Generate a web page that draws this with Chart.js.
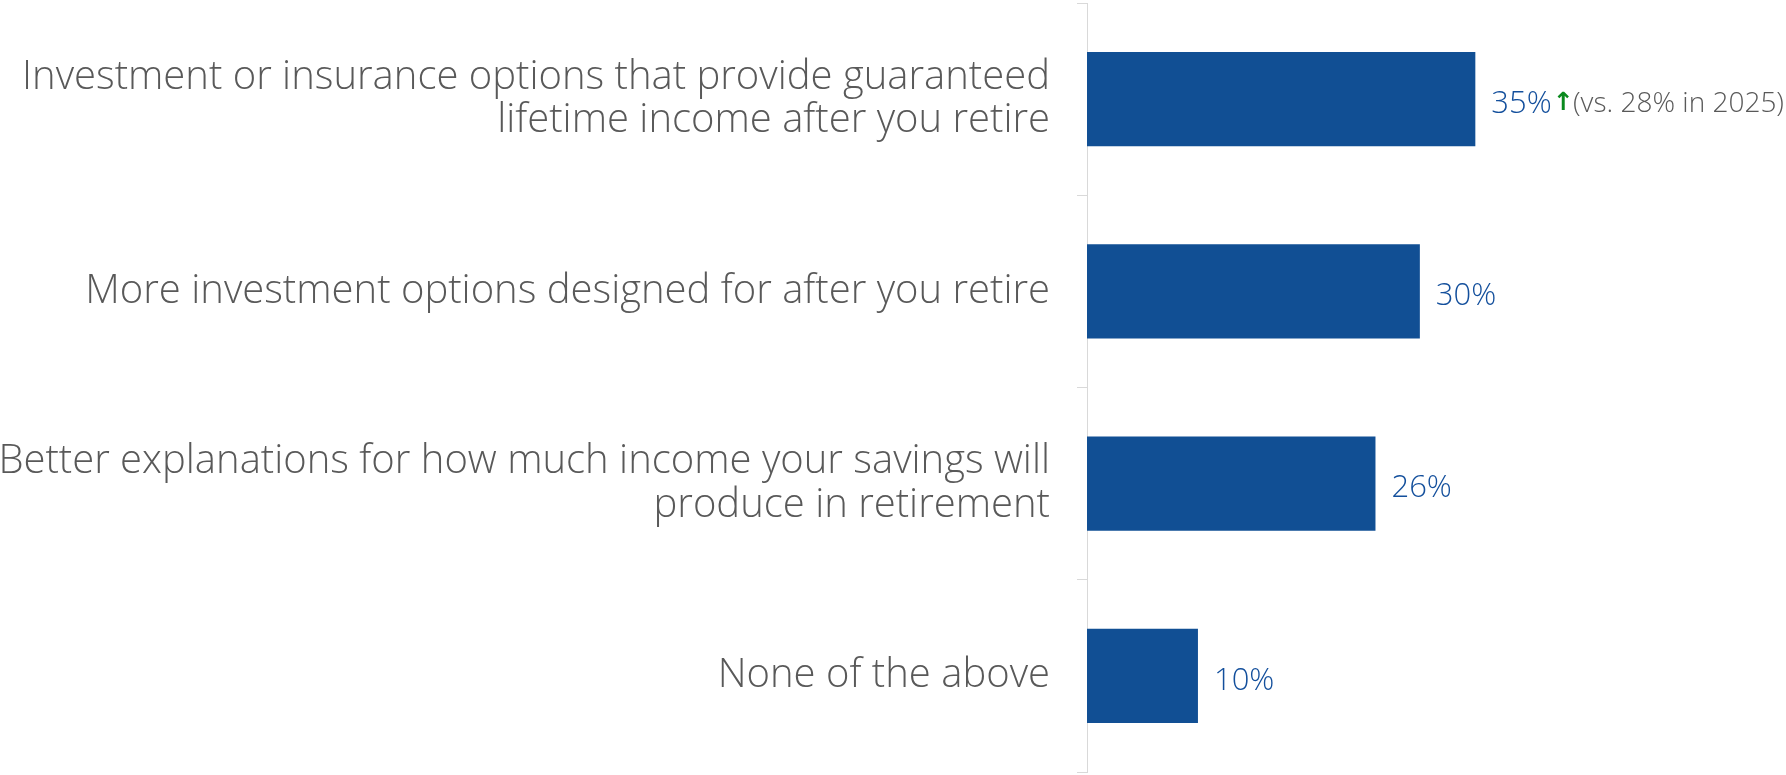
<!DOCTYPE html>
<html>
<head>
<meta charset="utf-8">
<script src="https://cdn.jsdelivr.net/npm/chart.js@4/dist/chart.umd.min.js"></script>
<style>
  html, body { margin: 0; padding: 0; background: #ffffff; }
  #wrap { width: 1786px; height: 775px; position: relative; }
</style>
</head>
<body>
<div id="wrap"><canvas id="retireChart"></canvas></div>
<script>
// categories (multi-line labels)
const categories = [
    ['Investment or insurance options that provide guaranteed', 'lifetime income after you retire'],
    ['More investment options designed for after you retire'],
    ['Better explanations for how much income your savings will', 'produce in retirement'],
    ['None of the above']
];
// share of respondents (%)
const values = [35, 30, 26, 10];
// change markers and notes shown next to the value
const arrows = ['↑', '', '', ''];
const notes = ['(vs. 28% in 2025)', '', '', ''];

const labelFont = '"Open Sans", Lato, sans-serif';

// draw value labels, arrow and comparison note after the bars
const valueLabels = {
    id: 'valueLabels',
    afterDatasetsDraw(chart) {
        const ctx = chart.ctx;
        const meta = chart.getDatasetMeta(0);
        ctx.save();
        ctx.textBaseline = 'middle';
        ctx.textAlign = 'left';
        meta.data.forEach((bar, i) => {
            let x = bar.x + 16;
            const y = bar.y + 5;
            ctx.font = '300 31px ' + labelFont;
            ctx.fillStyle = '#134f9c';
            const txt = values[i] + '%';
            ctx.fillText(txt, x, y);
            x += ctx.measureText(txt).width + 1;
            if (arrows[i]) {
                ctx.font = 'bold 25px "DejaVu Sans", sans-serif';
                ctx.fillStyle = '#0a8a1e';
                ctx.fillText(arrows[i], x, y - 1);
            }
            if (notes[i]) {
                ctx.font = '300 28px ' + labelFont;
                ctx.fillStyle = '#595959';
                ctx.fillText(notes[i], 1573, y);
            }
        });
        ctx.restore();
    }
};

const ctx = document.getElementById('retireChart').getContext('2d');
const retireChart = new Chart(ctx, {
    type: 'bar',
    data: {
        labels: categories,
        datasets: [{
            data: values,
            backgroundColor: '#114f94',
            borderWidth: 0,
            categoryPercentage: 1,
            barPercentage: 0.49
        }]
    },
    options: {
        indexAxis: 'y',
        responsive: true,
        maintainAspectRatio: false,
        animation: false,
        layout: { padding: { top: 3, bottom: 3, left: 0, right: 0 } },
        plugins: {
            legend: { display: false },
            tooltip: { enabled: false }
        },
        scales: {
            x: {
                min: 0,
                max: 63,
                display: false
            },
            y: {
                afterFit(scale) {
                    scale.width = 1087;
                    scale.paddingTop = 0;
                    scale.paddingBottom = 0;
                },
                border: { display: true, color: '#d9d9d9', width: 1 },
                grid: {
                    display: true,
                    drawOnChartArea: false,
                    drawTicks: true,
                    tickLength: 10,
                    color: '#d9d9d9',
                    offset: true
                },
                ticks: {
                    padding: 27,
                    color: '#595959',
                    font: { family: labelFont, size: 40, weight: '300', lineHeight: 1.08 },
                    crossAlign: 'near'
                }
            }
        }
    },
    plugins: [valueLabels]
});
</script>
</body>
</html>
